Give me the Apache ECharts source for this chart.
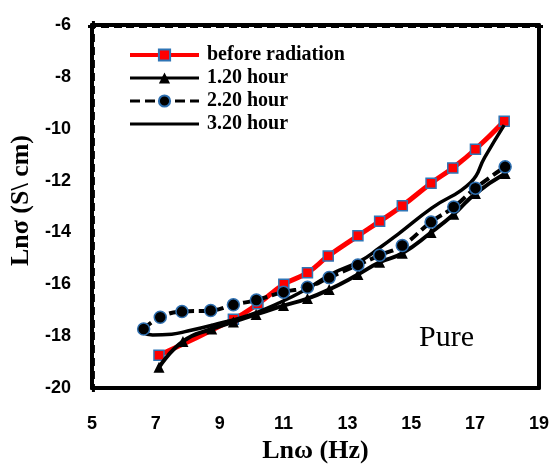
<!DOCTYPE html>
<html>
<head>
<meta charset="utf-8">
<script src="https://cdn.jsdelivr.net/npm/echarts@6/dist/echarts.min.js"></script>
<style>
  html, body { margin: 0; padding: 0; background: #fff; }
  #chart { width: 552px; height: 469px; }
</style>
</head>
<body>
<div id="chart"></div>
<script>
// data
var seriesNames = ['before radiation', '1.20 hour', '2.20 hour', '3.20 hour'];

var beforeX = [7.10, 9.43, 10.2, 11.01, 11.75, 12.40, 13.33, 14.01, 14.72, 15.62, 16.30, 17.01, 17.91];
var beforeY = [-18.73, -17.35, -16.75, -16.0, -15.55, -14.91, -14.13, -13.57, -12.97, -12.10, -11.51, -10.79, -9.71];

var h120X = [7.10, 7.85, 8.75, 9.43, 10.14, 11.0, 11.75, 12.43, 13.33, 14.01, 14.72, 15.62, 16.33, 17.01, 17.94];
var h120Y = [-19.2, -18.2, -17.72, -17.45, -17.16, -16.82, -16.55, -16.2, -15.62, -15.15, -14.8, -14.0, -13.3, -12.5, -11.73];

var h220X = [6.62, 7.14, 7.82, 8.72, 9.43, 10.15, 11.0, 11.75, 12.43, 13.33, 14.01, 14.72, 15.62, 16.33, 17.01, 17.94];
var h220Y = [-17.72, -17.27, -17.05, -17.01, -16.79, -16.6, -16.3, -16.11, -15.74, -15.25, -14.88, -14.5, -13.6, -13.02, -12.29, -11.47];

var h320X = [6.58, 6.9, 7.5, 8.0, 9.0, 9.9, 10.8, 11.7, 12.5, 13.4, 14.0, 14.6, 15.65, 16.86, 17.3, 17.91];
var h320Y = [-17.85, -17.95, -17.92, -17.8, -17.5, -17.2, -16.75, -16.2, -15.6, -15.1, -14.6, -14.05, -13.05, -12.07, -11.1, -9.86];

var xTicks = { min: 5, max: 19, interval: 2 };
var yTicks = { min: -20, max: -6, interval: 2 };

function pairs(xs, ys) {
    return xs.map(function (x, i) { return [x, ys[i]]; });
}

var chart = echarts.init(document.getElementById('chart'));

var labelStyle = {
    color: '#000',
    fontFamily: 'Liberation Sans, Arial',
    fontWeight: 'bold',
    fontSize: 18
};
var nameStyle = {
    color: '#000',
    fontFamily: 'Liberation Serif, Times New Roman',
    fontWeight: 'bold',
    fontSize: 26
};
var frameLine = { show: true, lineStyle: { color: '#000', width: 4 } };
// short thick inside ticks make the dashed inner edge on top and left
var dashTicks = { show: true, inside: true, length: 3, lineStyle: { color: '#000', width: 8 } };

var option = {
    animation: false,
    backgroundColor: '#fff',
    grid: { left: 89, right: 11, top: 25, bottom: 71 },
    legend: {
        orient: 'vertical',
        left: 123,
        top: 40,
        itemWidth: 69,
        itemHeight: 14,
        itemGap: 3,
        data: [
            { name: seriesNames[0], lineStyle: { width: 4 } },
            { name: seriesNames[1], lineStyle: { width: 3 } },
            { name: seriesNames[2], lineStyle: { width: 3 } },
            { name: seriesNames[3], lineStyle: { width: 3 }, itemStyle: { opacity: 0 } }
        ],
        textStyle: {
            color: '#000',
            fontFamily: 'Liberation Serif, Times New Roman',
            fontWeight: 'bold',
            fontSize: 20,
            lineHeight: 20,
            padding: [0, 0, 0, 3]
        }
    },
    xAxis: [{
        type: 'value',
        min: xTicks.min, max: xTicks.max, interval: xTicks.interval,
        name: 'Lnω (Hz)',
        nameLocation: 'middle',
        nameGap: 42,
        nameTextStyle: nameStyle,
        axisLine: frameLine,
        axisTick: { show: false },
        splitLine: { show: false },
        axisLabel: Object.assign({ margin: 27 }, labelStyle)
    }, {
        type: 'value',
        position: 'top',
        min: xTicks.min, max: xTicks.max, interval: 0.4,
        axisLine: frameLine,
        axisTick: dashTicks,
        axisLabel: { show: false },
        splitLine: { show: false }
    }],
    yAxis: [{
        type: 'value',
        min: yTicks.min, max: yTicks.max, interval: yTicks.interval,
        name: 'Lnσ (S\\ cm)',
        nameLocation: 'middle',
        nameGap: 54,
        nameTextStyle: Object.assign({ padding: [0, 0, 0, 12] }, nameStyle),
        axisLine: frameLine,
        axisTick: { show: false },
        splitLine: { show: false },
        axisLabel: Object.assign({ margin: 21 }, labelStyle)
    }, {
        type: 'value',
        position: 'left',
        offset: 0,
        min: yTicks.min, max: yTicks.max, interval: 0.5,
        axisLine: frameLine,
        axisTick: dashTicks,
        axisLabel: { show: false },
        splitLine: { show: false }
    }, {
        type: 'value',
        position: 'right',
        offset: 0,
        min: yTicks.min, max: yTicks.max,
        axisLine: frameLine,
        axisTick: { show: false },
        axisLabel: { show: false },
        splitLine: { show: false }
    }],
    graphic: [{
        type: 'text',
        left: 419,
        top: 323,
        style: {
            text: 'Pure',
            fill: '#000',
            font: '30px "Liberation Serif", "Times New Roman"'
        }
    }],
    series: [{
        name: 'before radiation',
        type: 'line',
        smooth: true,
        data: pairs(beforeX, beforeY),
        symbol: 'rect',
        symbolSize: 10,
        lineStyle: { color: '#ff0000', width: 5 },
        itemStyle: { color: '#ff0000', borderColor: '#2e75b6', borderWidth: 1.5 },
        z: 2
    }, {
        name: '3.20 hour',
        type: 'line',
        smooth: true,
        data: pairs(h320X, h320Y),
        symbol: 'none',
        lineStyle: { color: '#000', width: 3.5 },
        itemStyle: { color: '#000' },
        z: 3
    }, {
        name: '1.20 hour',
        type: 'line',
        smooth: true,
        data: pairs(h120X, h120Y),
        symbol: 'triangle',
        symbolSize: 11,
        lineStyle: { color: '#000', width: 4 },
        itemStyle: { color: '#000' },
        z: 4
    }, {
        name: '2.20 hour',
        type: 'line',
        smooth: true,
        data: pairs(h220X, h220Y),
        symbol: 'circle',
        symbolSize: 12,
        lineStyle: { color: '#000', width: 4, type: [10, 5] },
        itemStyle: { color: '#000', borderColor: '#2e6fb0', borderWidth: 1.5 },
        z: 5
    }]
};

chart.setOption(option);
</script>
</body>
</html>
